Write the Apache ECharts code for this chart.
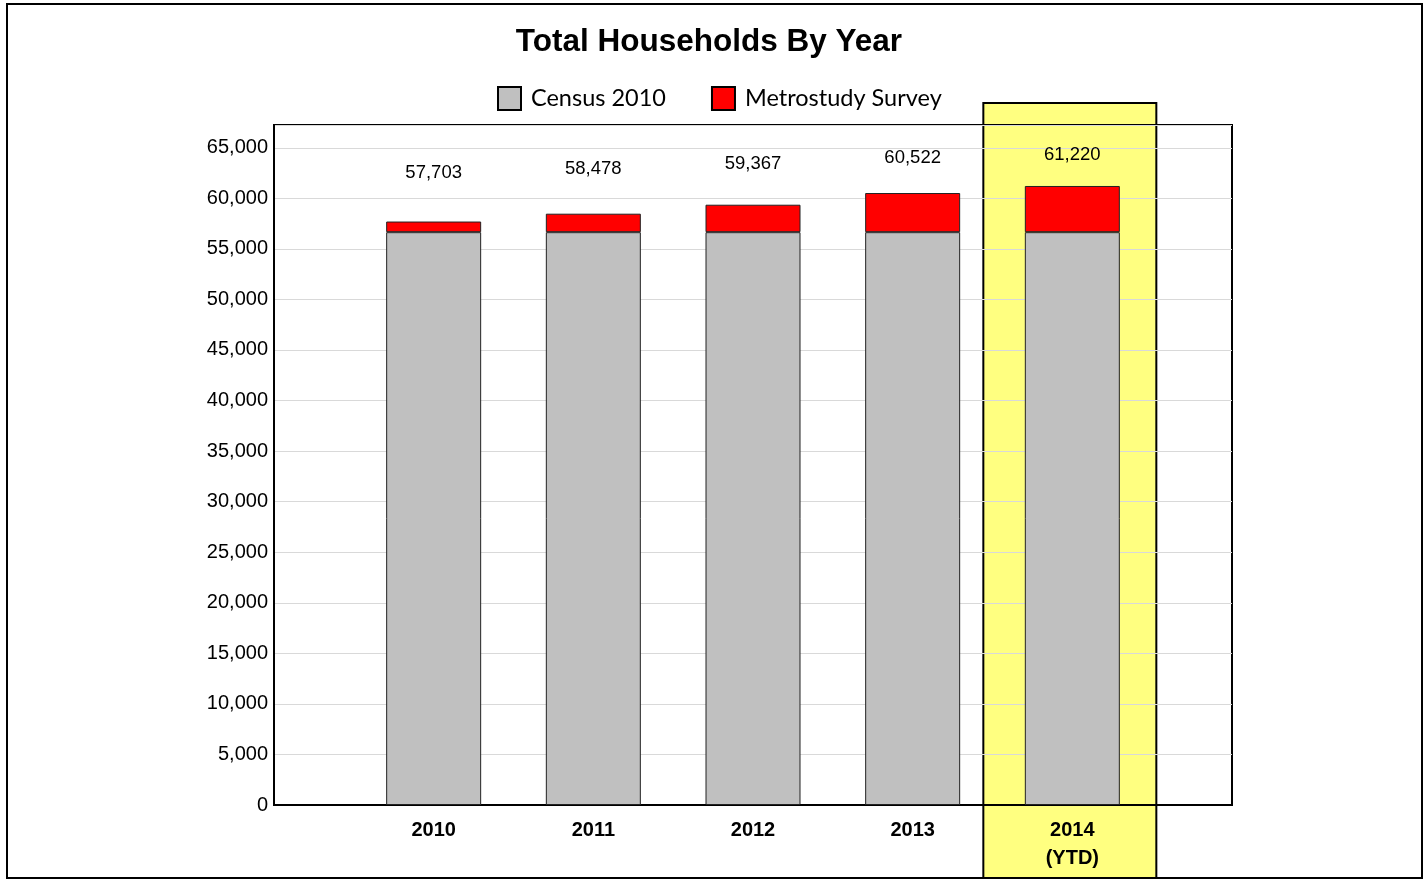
<!DOCTYPE html>
<html>
<head>
<meta charset="utf-8">
<script src="https://cdn.jsdelivr.net/npm/echarts@6/dist/echarts.min.js"></script>
<style>html,body{margin:0;padding:0;background:#fff}#c{width:1427px;height:880px}</style>
</head>
<body>
<div id="c"></div>
<script>
// Data
const categories = ['', '2010', '2011', '2012', '2013', '2014\n(YTD)', ''];
const census2010 = [null, 56650, 56650, 56650, 56650, 56650, null];
const totals = [null, 57703, 58478, 59367, 60522, 61220, null];
const metrostudy = totals.map((t, i) => t == null ? null : t - census2010[i]);
const yTicks = { min: 0, max: 67250, interval: 5000 };

// Style: distance of the total label above each bar top
const labelDistance = [0, 39, 35, 31, 26, 22, 0];

const chart = echarts.init(document.getElementById('c'), null, { renderer: 'canvas' });
const AR = 'Liberation Sans, Arial, sans-serif';

const option = {
  animation: false,
  backgroundColor: '#fff',
  title: {
    text: 'Total Households By Year',
    left: 704, top: 21, textAlign: 'center',
    textStyle: { fontFamily: AR, fontWeight: 'bold', fontSize: 31.5, color: '#000' }
  },
  legend: {
    left: 492, top: 81,
    itemWidth: 23, itemHeight: 23, itemGap: 45,
    icon: 'rect',
    itemStyle: { borderColor: '#000', borderWidth: 2 },
    textStyle: { fontFamily: 'Lato, Noto Sans, sans-serif', fontSize: 23.5, color: '#000', padding: [0, 0, 0, 5] },
    data: ['Census 2010', 'Metrostudy Survey']
  },
  grid: {
    left: 274, right: 195, top: 125, bottom: 75,
    show: true, borderColor: '#000', borderWidth: 2, backgroundColor: 'transparent'
  },
  xAxis: {
    type: 'category', data: categories, boundaryGap: false,
    axisLine: { show: true, lineStyle: { color: '#000', width: 2 } },
    axisTick: { show: false },
    splitLine: { show: false },
    axisLabel: { interval: 0, margin: 11, fontFamily: AR, fontWeight: 'bold', fontSize: 20, lineHeight: 28, color: '#000' }
  },
  yAxis: {
    type: 'value', min: yTicks.min, max: yTicks.max, interval: yTicks.interval,
    axisLine: { show: true, lineStyle: { color: '#000', width: 2 } },
    axisTick: { show: false },
    splitLine: { show: true, lineStyle: { color: '#d9d9d9', width: 1 } },
    axisLabel: {
      margin: 6, fontFamily: AR, fontSize: 20, color: '#000',
      formatter: v => (v % 5000 === 0) ? v.toLocaleString('en-US') : ''
    }
  },
  series: [
    {
      name: 'Census 2010', type: 'bar', stack: 'total', barWidth: 95,
      data: census2010,
      itemStyle: { color: '#c0c0c0', borderColor: '#222', borderWidth: 1 }
    },
    {
      name: 'Metrostudy Survey', type: 'bar', stack: 'total', barWidth: 95,
      data: metrostudy.map((v, i) => v == null ? null : {
        value: v,
        label: { distance: labelDistance[i] }
      }),
      itemStyle: { color: '#ff0000', borderColor: '#222', borderWidth: 1 },
      label: {
        show: true, position: 'top', fontFamily: AR, fontSize: 18.5, color: '#000',
        formatter: p => totals[p.dataIndex].toLocaleString('en-US')
      }
    }
  ]
};
chart.setOption(option);

// Highlight band around the 2014 category, plus outer frame
const cx = chart.convertToPixel({ xAxisIndex: 0 }, categories[5]);
const gridTop = chart.convertToPixel({ yAxisIndex: 0 }, yTicks.max);
chart.setOption({
  graphic: [
    {
      type: 'rect', z: -10, silent: true,
      shape: { x: cx - 89, y: gridTop - 22, width: 173, height: 878 - (gridTop - 22) },
      style: { fill: '#ffff80', stroke: '#000', lineWidth: 2 }
    },
    {
      type: 'rect', z: 100, silent: true,
      shape: { x: 7, y: 4, width: 1415, height: 874 },
      style: { fill: 'none', stroke: '#000', lineWidth: 2 }
    }
  ]
});
</script>
</body>
</html>
